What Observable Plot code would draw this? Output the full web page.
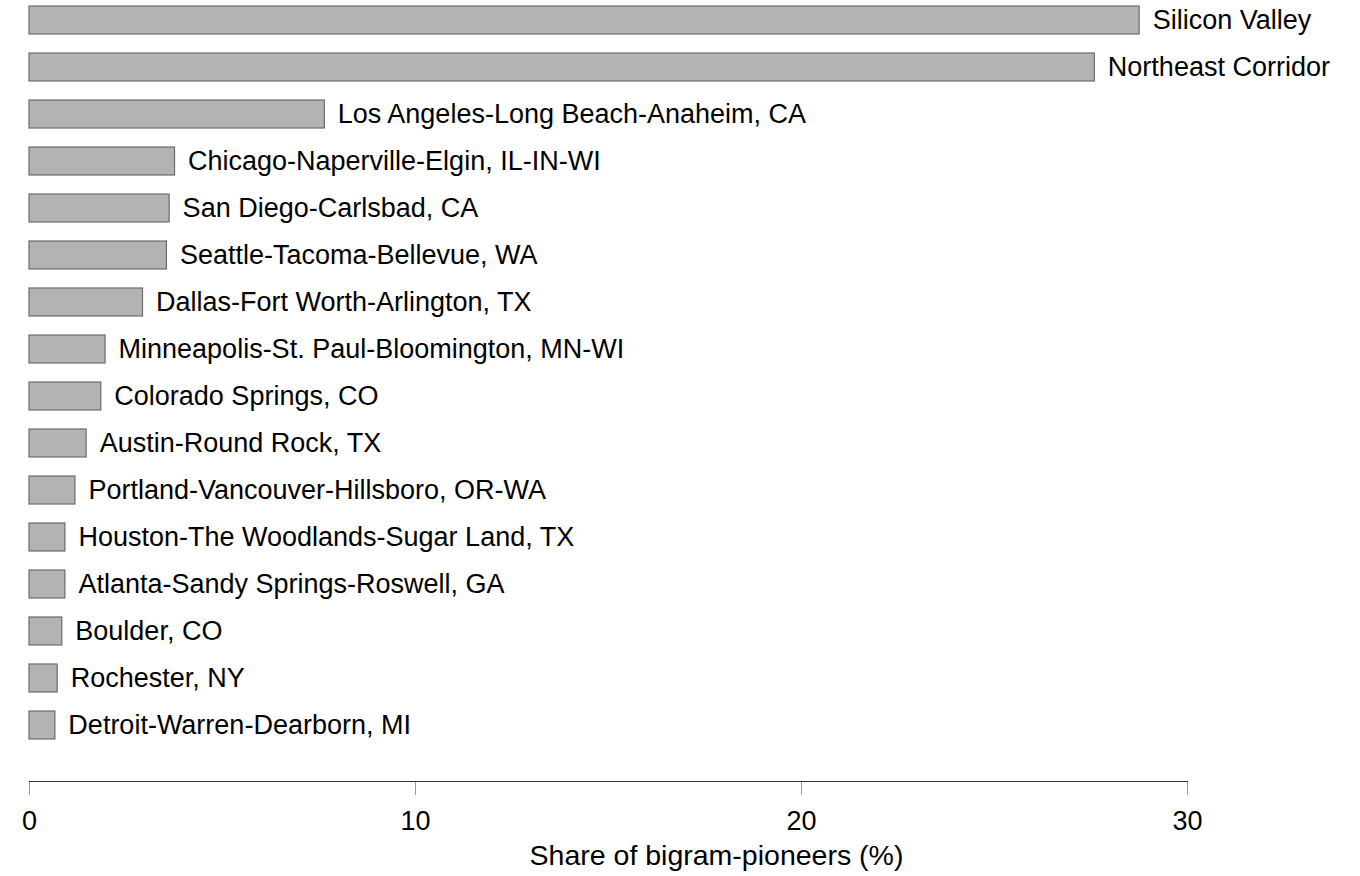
<!DOCTYPE html>
<html><head><meta charset="utf-8">
<script src="https://cdn.jsdelivr.net/npm/d3@7"></script>
<script src="https://cdn.jsdelivr.net/npm/@observablehq/plot@0.6"></script>
<style>html,body{margin:0;padding:0;background:#fff}</style>
</head><body><div id="chart"></div>
<script>
const regions = [
  "Silicon Valley",
  "Northeast Corridor",
  "Los Angeles-Long Beach-Anaheim, CA",
  "Chicago-Naperville-Elgin, IL-IN-WI",
  "San Diego-Carlsbad, CA",
  "Seattle-Tacoma-Bellevue, WA",
  "Dallas-Fort Worth-Arlington, TX",
  "Minneapolis-St. Paul-Bloomington, MN-WI",
  "Colorado Springs, CO",
  "Austin-Round Rock, TX",
  "Portland-Vancouver-Hillsboro, OR-WA",
  "Houston-The Woodlands-Sugar Land, TX",
  "Atlanta-Sandy Springs-Roswell, GA",
  "Boulder, CO",
  "Rochester, NY",
  "Detroit-Warren-Dearborn, MI"
];
const shares = [28.76, 27.6, 7.65, 3.77, 3.63, 3.56, 2.94, 1.97, 1.86, 1.48, 1.19, 0.93, 0.93, 0.85, 0.73, 0.67];
const xTicks = [0, 10, 20, 30];
const xLabel = "Share of bigram-pioneers (%)";

const data = regions.map((r, i) => ({region: r, share: shares[i]}));

const chart = Plot.plot({
  width: 1360,
  height: 876,
  marginLeft: 29,
  marginRight: 173,
  marginTop: 6,
  marginBottom: 95,
  style: {fontFamily: "'Liberation Sans', Arial, sans-serif", fontSize: "27px", background: "#fff", color: "#000"},
  x: {domain: [0, 30]},
  y: {domain: regions, paddingInner: 0.4, paddingOuter: 0, insetBottom: 41, axis: null},
  marks: [
    Plot.barX(data, {x: "share", y: "region", fill: "#b3b3b3", stroke: "#6b6b6b", strokeWidth: 1.2}),
    Plot.text(data, {x: "share", y: "region", text: "region", textAnchor: "start", dx: 13, fill: "#000", fontSize: 27}),
    Plot.axisX({ticks: xTicks, tickSize: 14, tickPadding: 15, stroke: "#999", fill: "#000", fontSize: 27, label: null}),
    Plot.frame({anchor: "bottom", stroke: "#333"}),
    Plot.text([xLabel], {frameAnchor: "bottom", dx: 108, dy: 74, lineAnchor: "middle", text: d => d, fill: "#000", fontSize: 28.5})
  ]
});
document.getElementById("chart").appendChild(chart);
</script>
</body></html>
